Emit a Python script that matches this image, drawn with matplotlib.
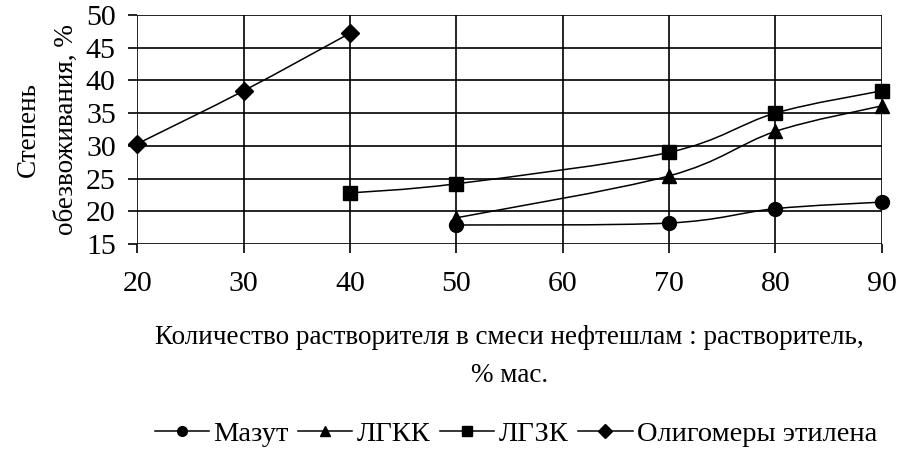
import numpy as np
import matplotlib
matplotlib.use("Agg")
import matplotlib.pyplot as plt
from matplotlib.path import Path
from matplotlib.patches import PathPatch
from matplotlib.lines import Line2D

plt.rcParams['font.family'] = ['Liberation Serif', 'DejaVu Serif']

# Data
x_mazut = [50, 70, 80, 90]
y_mazut = [17.9, 18.2, 20.4, 21.4]

x_lgkk = [50, 70, 80, 90]
y_lgkk = [19.0, 25.4, 32.2, 36.1]

x_lgzk = [40, 50, 70, 80, 90]
y_lgzk = [22.8, 24.2, 29.0, 35.0, 38.4]

x_olig = [20, 30, 40]
y_olig = [30.3, 38.4, 47.2]

names = ['Мазут', 'ЛГКК', 'ЛГЗК', 'Олигомеры этилена']
markers = ['o', '^', 's', 'D']
msizes = [10, 10, 9.5, 9]


def smooth_path(xs, ys):
    # Excel-style smoothed line: cubic Bezier with Catmull-Rom control points
    p = np.column_stack([xs, ys]).astype(float)
    n = len(p)
    verts = [p[0]]
    codes = [Path.MOVETO]
    for i in range(n - 1):
        p0 = p[i - 1] if i > 0 else p[i]
        p3 = p[i + 2] if i + 2 < n else p[i + 1]
        c1 = p[i] + (p[i + 1] - p0) / 6
        c2 = p[i + 1] - (p3 - p[i]) / 6
        verts += [c1, c2, p[i + 1]]
        codes += [Path.CURVE4] * 3
    return Path(verts, codes)


fig = plt.figure(figsize=(8.97, 4.51), dpi=100)
ax = fig.add_axes([0.153, 0.459, 0.830, 0.508])

series = [(x_mazut, y_mazut), (x_lgkk, y_lgkk), (x_lgzk, y_lgzk), (x_olig, y_olig)]
for (xs, ys), m, ms in zip(series, markers, msizes):
    ax.add_patch(PathPatch(smooth_path(xs, ys), fill=False, edgecolor='black',
                           lw=1.1, zorder=3))
    ax.plot(xs, ys, ls='none', marker=m, ms=ms, color='black', zorder=4,
            clip_on=False)

ax.set_xlim(20, 90)
ax.set_ylim(15, 50)
ax.set_xticks(range(20, 91, 10))
ax.set_yticks(range(15, 51, 5))
ax.grid(True, color='black', lw=1.2)
ax.set_axisbelow(True)
for s in ax.spines.values():
    s.set_visible(False)
ax.tick_params(axis='both', length=6.5, width=1.2, labelsize=21.5,
               direction='out')
ax.tick_params(axis='y', pad=9)
ax.tick_params(axis='x', pad=13)

ax.set_xlabel('Количество растворителя в смеси нефтешлам : растворитель,\n% мас.',
              fontsize=19.5, labelpad=20, linespacing=1.7)
ax.set_ylabel('Степень\nобезвоживания, %', fontsize=19.5, labelpad=5,
              linespacing=1.7)

handles = [Line2D([], [], color='black', lw=1.1, marker=m, ms=7)
           for m in markers]
fig.legend(handles, names, loc='center', bbox_to_anchor=(0.575, 0.038),
           ncol=4, frameon=False, fontsize=20.5, handlelength=1.9,
           handletextpad=0.15, columnspacing=0.35, borderpad=0)

fig.savefig('out.png', dpi=100)
